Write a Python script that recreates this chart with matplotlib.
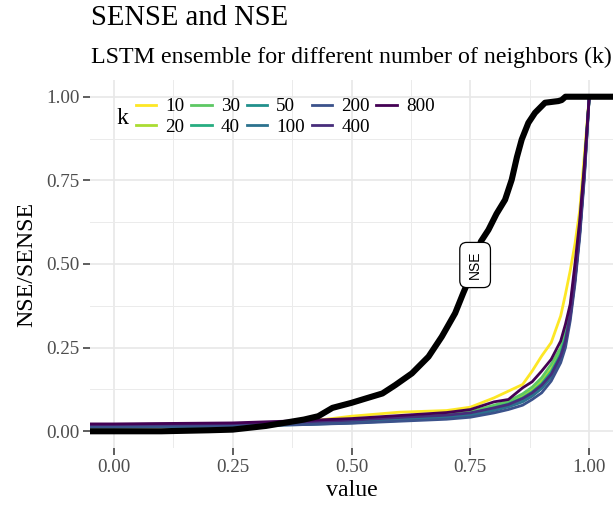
#!/usr/bin/env python3
"""
SENSE and NSE: cumulative curves for the LSTM ensemble, one line per k.
Writes out.png (613x508).
"""
import numpy as np
import matplotlib
matplotlib.use("Agg")
import matplotlib.pyplot as plt
from matplotlib.ticker import MultipleLocator, FormatStrFormatter

# values
k_values = ["10", "20", "30", "40", "50", "100", "200", "400", "800"]
k_colors = ["#FDE725", "#AADC32", "#5DC863", "#27AD81", "#21908C",
            "#2C728E", "#3B528B", "#472D7B", "#440154"]

# x positions where the SENSE curves were read
sense_x = [-0.1, 0.0, 0.25, 0.40, 0.50, 0.60, 0.70, 0.75, 0.80, 0.83, 0.86,
           0.88, 0.90, 0.92, 0.94, 0.95, 0.96, 0.97, 0.98, 0.99, 1.00, 1.10]

sense_10 = [0.015, 0.015, 0.018, 0.028, 0.045, 0.057, 0.062, 0.072, 0.100, 0.120, 0.140,
            0.180, 0.225, 0.265, 0.345, 0.410, 0.480, 0.560, 0.660, 0.830, 1.0, 1.0]
sense_20 = [0.016, 0.016, 0.019, 0.024, 0.030, 0.040, 0.050, 0.058, 0.075, 0.085, 0.105,
            0.125, 0.150, 0.185, 0.240, 0.290, 0.360, 0.470, 0.610, 0.790, 1.0, 1.0]
sense_30 = [0.016, 0.016, 0.019, 0.025, 0.031, 0.041, 0.050, 0.058, 0.078, 0.090, 0.112,
            0.132, 0.160, 0.200, 0.250, 0.300, 0.370, 0.480, 0.620, 0.800, 1.0, 1.0]
sense_40 = [0.015, 0.015, 0.018, 0.023, 0.028, 0.037, 0.046, 0.053, 0.070, 0.082, 0.100,
            0.118, 0.142, 0.178, 0.232, 0.280, 0.350, 0.460, 0.600, 0.780, 1.0, 1.0]
sense_50 = [0.013, 0.013, 0.016, 0.021, 0.026, 0.034, 0.043, 0.050, 0.066, 0.078, 0.095,
            0.112, 0.136, 0.170, 0.225, 0.270, 0.345, 0.455, 0.595, 0.780, 1.0, 1.0]
sense_100 = [0.013, 0.013, 0.015, 0.020, 0.025, 0.032, 0.040, 0.047, 0.062, 0.073, 0.088,
             0.105, 0.128, 0.162, 0.218, 0.265, 0.340, 0.450, 0.590, 0.770, 1.0, 1.0]
sense_200 = [0.014, 0.014, 0.016, 0.020, 0.024, 0.030, 0.036, 0.042, 0.055, 0.065, 0.078,
             0.095, 0.115, 0.150, 0.205, 0.250, 0.330, 0.440, 0.580, 0.760, 1.0, 1.0]
sense_400 = [0.020, 0.020, 0.023, 0.028, 0.033, 0.041, 0.048, 0.055, 0.070, 0.080, 0.098,
             0.115, 0.138, 0.170, 0.225, 0.270, 0.345, 0.455, 0.595, 0.775, 1.0, 1.0]
sense_800 = [0.022, 0.022, 0.025, 0.032, 0.038, 0.047, 0.056, 0.065, 0.088, 0.095, 0.130,
             0.148, 0.180, 0.215, 0.270, 0.320, 0.380, 0.500, 0.630, 0.800, 1.0, 1.0]
sense_curves = [sense_10, sense_20, sense_30, sense_40, sense_50,
                sense_100, sense_200, sense_400, sense_800]

nse_x = [-0.1, 0.10, 0.20, 0.25, 0.32, 0.40, 0.43, 0.46, 0.50, 0.53, 0.565, 0.592,
         0.627, 0.662, 0.690, 0.718, 0.735, 0.760, 0.772, 0.788, 0.805, 0.823, 0.837,
         0.848, 0.858, 0.872, 0.886, 0.907, 0.935, 0.942, 0.950, 1.10]
nse_y = [0.0, 0.0, 0.003, 0.005, 0.016, 0.035, 0.045, 0.070, 0.085, 0.098, 0.113, 0.138,
         0.173, 0.223, 0.283, 0.353, 0.413, 0.497, 0.567, 0.602, 0.650, 0.692, 0.752,
         0.820, 0.872, 0.922, 0.952, 0.982, 0.987, 0.990, 1.0, 1.0]

W, H = 613, 508
BASE = 17.2

plt.rcParams["font.family"] = ["Liberation Serif", "DejaVu Serif"]

fig = plt.figure(figsize=(W / 100, H / 100), dpi=100)
ax = fig.add_axes([90 / W, (H - 448) / H, (W - 90) / W, (448 - 80) / H])

for ys, col, k in zip(sense_curves, k_colors, k_values):
    ax.plot(sense_x, ys, color=col, lw=2.0, label=k, solid_joinstyle="round")
ax.plot(nse_x, nse_y, color="black", lw=4.4, solid_joinstyle="round")

ax.text(0.76, 0.497, "NSE", rotation=90, ha="center", va="center",
        family=["Liberation Sans", "DejaVu Sans"], fontsize=10,
        bbox=dict(boxstyle="round,pad=0.6,rounding_size=0.5",
                  fc="white", ec="black", lw=0.9))

ax.set_xlim(-0.05, 1.05)
ax.set_ylim(-0.05, 1.05)
ax.xaxis.set_major_locator(MultipleLocator(0.25))
ax.yaxis.set_major_locator(MultipleLocator(0.25))
ax.xaxis.set_minor_locator(MultipleLocator(0.125))
ax.yaxis.set_minor_locator(MultipleLocator(0.125))
ax.xaxis.set_major_formatter(FormatStrFormatter("%.2f"))
ax.yaxis.set_major_formatter(FormatStrFormatter("%.2f"))
ax.grid(which="major", color="#E8E8E8", lw=1.2)
ax.grid(which="minor", color="#EBEBEB", lw=0.7)
ax.set_axisbelow(True)
for s in ax.spines.values():
    s.set_visible(False)
ax.tick_params(which="major", length=4.8, width=1.1, color="#333333",
               labelcolor="#4D4D4D", labelsize=BASE * 0.8, pad=3)
ax.tick_params(which="minor", length=0)

ax.set_xlabel("value", fontsize=BASE, labelpad=3)
ax.set_ylabel("NSE/SENSE", fontsize=BASE, labelpad=6)

fig.text(90.6 / W, 1 - 25 / H, "SENSE and NSE", fontsize=BASE * 1.2,
         ha="left", va="baseline")
fig.text(90.6 / W, 1 - 62.5 / H, "LSTM ensemble for different number of neighbors (k)",
         fontsize=BASE, ha="left", va="baseline")

# legend inside the panel, title to the left
fig.text(122 / W, 1 - 119 / H, "k", fontsize=BASE, ha="center", va="center")
ax.legend(loc="upper left", bbox_to_anchor=(136 / W, 1 - 98 / H),
          bbox_transform=fig.transFigure, ncol=5, frameon=False,
          fontsize=BASE * 0.8, handlelength=1.05, handletextpad=0.5,
          columnspacing=0.35, labelspacing=0.15, borderpad=0, borderaxespad=0)

fig.savefig("out.png", dpi=100)
